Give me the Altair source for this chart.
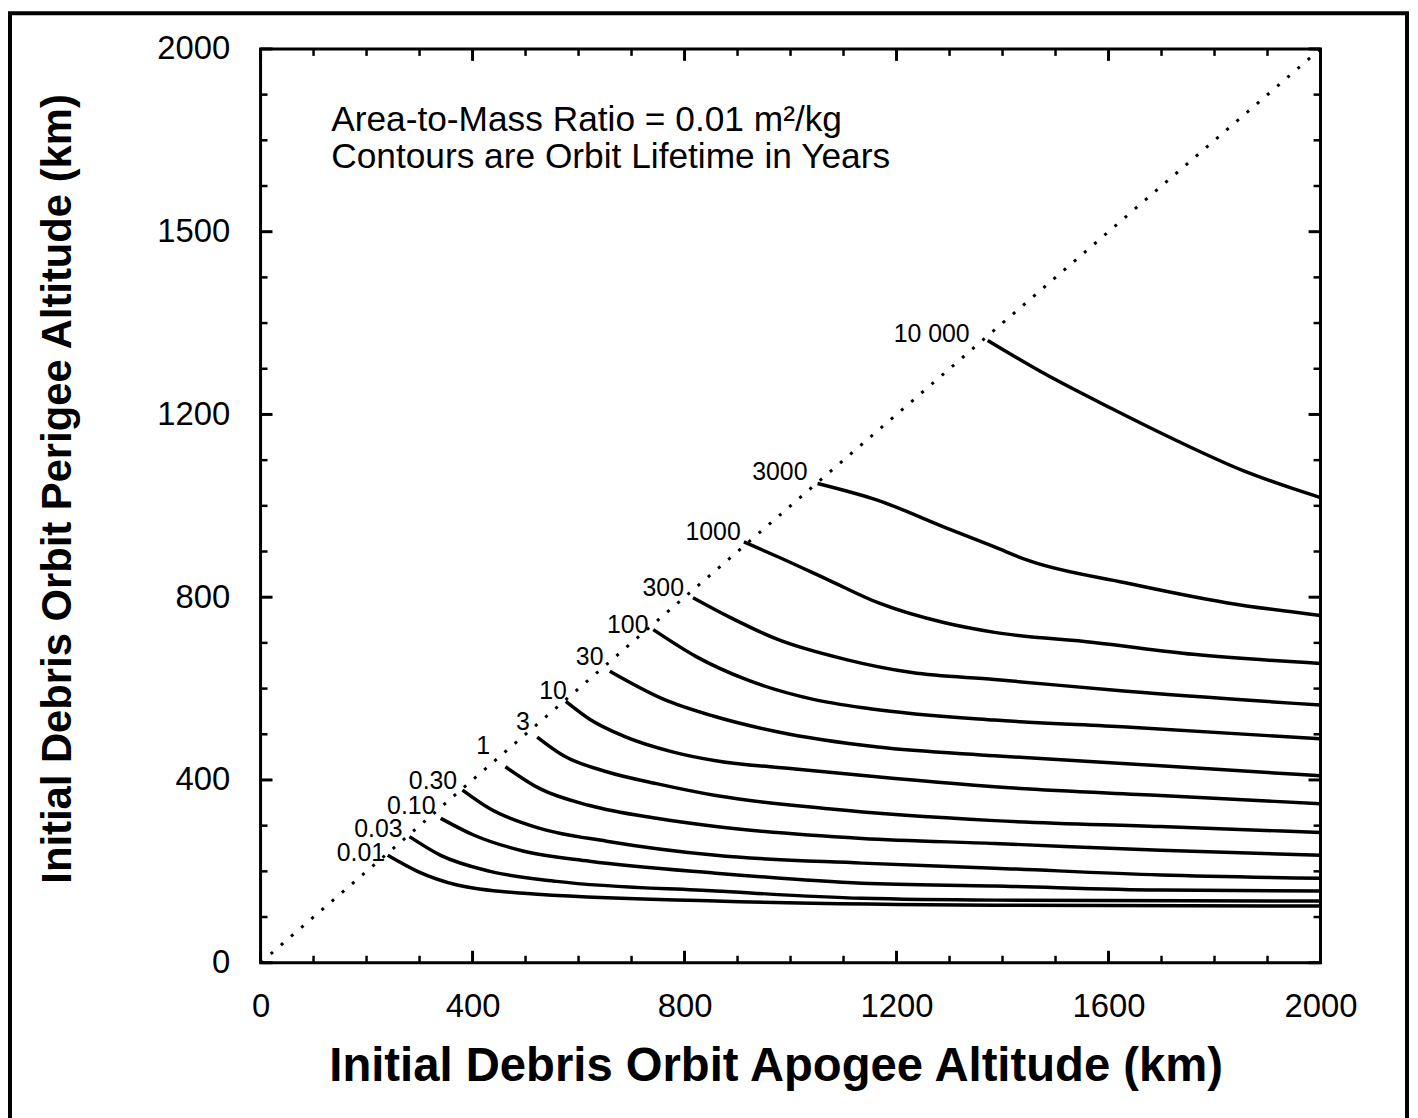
import altair as alt
import pandas as pd

# ---------------- data ----------------
levels = ["10 000", "3000", "1000", "300", "100", "30", "10", "3", "1",
          "0.30", "0.10", "0.03", "0.01"]

apogee_10000 = [1372, 1478, 1604, 1728, 1854, 1947, 2000]
perigee_10000 = [1362, 1290, 1214, 1143, 1077, 1038, 1018]
apogee_3000 = [1051, 1165, 1291, 1385, 1447, 1634, 1822, 2000]
perigee_3000 = [1049, 1012, 953, 910, 881, 831, 788, 760]
apogee_1000 = [912, 977, 1071, 1165, 1291, 1385, 1572, 1760, 2000]
perigee_1000 = [921, 888, 838, 788, 744, 723, 701, 675, 655]
apogee_300 = [816, 884, 977, 1103, 1229, 1385, 1634, 2000]
perigee_300 = [799, 757, 707, 664, 635, 620, 594, 564]
apogee_100 = [741, 822, 916, 1041, 1150, 1385, 1634, 2000]
perigee_100 = [729, 670, 620, 577, 556, 531, 516, 490]
apogee_30 = [659, 760, 854, 977, 1165, 1385, 1698, 2000]
perigee_30 = [638, 577, 540, 505, 472, 453, 431, 409]
apogee_10 = [576, 621, 685, 779, 859, 1009, 1197, 1385, 1698, 2000]
perigee_10 = [572, 533, 496, 461, 442, 424, 403, 385, 366, 348]
apogee_3 = [522, 572, 653, 747, 859, 1071, 1385, 1698, 2000]
perigee_3 = [494, 453, 418, 392, 366, 337, 311, 298, 285]
apogee_1 = [462, 527, 621, 747, 859, 1135, 1385, 1698, 2000]
perigee_1 = [429, 381, 344, 316, 298, 272, 261, 246, 235]
apogee_030 = [381, 433, 527, 653, 859, 1135, 1385, 1698, 2000]
perigee_030 = [378, 337, 294, 266, 235, 218, 207, 192, 185]
apogee_010 = [340, 403, 497, 621, 859, 1135, 1385, 1698, 2000]
perigee_010 = [316, 279, 244, 222, 196, 174, 168, 159, 157]
apogee_003 = [281, 340, 433, 559, 859, 1135, 1385, 2000]
perigee_003 = [276, 235, 200, 178, 157, 141, 137, 135]
apogee_001 = [240, 296, 371, 497, 859, 1385, 2000]
perigee_001 = [235, 200, 170, 152, 135, 126, 124]

# contour label anchors (right end of text, middle of text), in km
label_apogee = [1338, 1032, 906, 799, 732, 647, 578, 508, 433, 371, 330, 268, 235]
label_perigee = [1375, 1073, 942, 820, 740, 668, 594, 527, 474, 398, 344, 292, 239]

diagonal = [0, 2000]

x_tick_values = [0, 400, 800, 1200, 1600, 2000]
x_tick_labels = ["0", "400", "800", "1200", "1600", "2000"]
y_tick_values = [0, 400, 800, 1200, 1600, 2000]
y_tick_labels = ["0", "400", "800", "1200", "1500", "2000"]
major_ticks = [0, 400, 800, 1200, 1600, 2000]
minor_ticks = [100, 200, 300, 500, 600, 700, 900, 1000, 1100,
               1300, 1400, 1500, 1700, 1800, 1900]

note_line1 = "Area-to-Mass Ratio = 0.01 m²/kg"
note_line2 = "Contours are Orbit Lifetime in Years"
x_title = "Initial Debris Orbit Apogee Altitude (km)"
y_title = "Initial Debris Orbit Perigee Altitude (km)"

# ---------------- build tables ----------------
apogees = [apogee_10000, apogee_3000, apogee_1000, apogee_300, apogee_100, apogee_30,
           apogee_10, apogee_3, apogee_1, apogee_030, apogee_010, apogee_003, apogee_001]
perigees = [perigee_10000, perigee_3000, perigee_1000, perigee_300, perigee_100, perigee_30,
            perigee_10, perigee_3, perigee_1, perigee_030, perigee_010, perigee_003, perigee_001]

rows = []
for lvl, xs_, ys_ in zip(levels, apogees, perigees):
    for i, (a, p) in enumerate(zip(xs_, ys_)):
        rows.append({"level": lvl, "i": i, "apogee": a, "perigee": p})
contours = pd.DataFrame(rows)
labels_df = pd.DataFrame({"level": levels, "apogee": label_apogee, "perigee": label_perigee})
diag_df = pd.DataFrame({"apogee": diagonal, "perigee": diagonal})
major_df = pd.DataFrame({"v": major_ticks})
minor_df = pd.DataFrame({"v": minor_ticks})

W, H = 1066, 919
FONT = "Liberation Sans"
MAJ, MIN = 12, 7

xs = alt.Scale(domain=[0, 2000], nice=False, zero=False)
ys = alt.Scale(domain=[0, 2000], nice=False, zero=False)


def expr_for(values, texts):
    e = "datum.label"
    for v, t in reversed(list(zip(values, texts))):
        e = f"datum.value == {v} ? '{t}' : ({e})"
    return e


x_axis = alt.Axis(values=x_tick_values, labelExpr=expr_for(x_tick_values, x_tick_labels),
                  ticks=False, tickSize=0, domain=False, grid=False,
                  labelFontSize=33, labelFont=FONT, labelColor="black",
                  labelPadding=28, labelFlush=False, orient="bottom",
                  title=x_title, titleFontSize=47.5, titleFont=FONT, titleFontWeight="bold",
                  titleColor="black", titleX=518, titleY=104, titleAlign="center",
                  titleBaseline="middle")
y_axis = alt.Axis(values=y_tick_values, labelExpr=expr_for(y_tick_values, y_tick_labels),
                  ticks=False, tickSize=0, domain=False, grid=False,
                  labelFontSize=33, labelFont=FONT, labelColor="black",
                  labelPadding=31, orient="left",
                  title=y_title, titleFontSize=42, titleFont=FONT, titleFontWeight="bold",
                  titleColor="black", titleAngle=270, titleX=-204, titleY=442,
                  titleAlign="center", titleBaseline="middle")

contour_layer = alt.Chart(contours).mark_line(
    color="black", strokeWidth=3.5, interpolate="monotone"
).encode(
    x=alt.X("apogee:Q", scale=xs, axis=x_axis),
    y=alt.Y("perigee:Q", scale=ys, axis=y_axis),
    detail="level:N",
    order="i:Q",
)

diag_layer = alt.Chart(diag_df).mark_line(
    color="black", strokeWidth=3, strokeDash=[3, 10.5]
).encode(
    x=alt.X("apogee:Q", scale=xs, axis=None),
    y=alt.Y("perigee:Q", scale=ys, axis=None),
)

label_layer = alt.Chart(labels_df).mark_text(
    align="right", baseline="middle", fontSize=25, font=FONT, color="black"
).encode(
    x=alt.X("apogee:Q", scale=xs, axis=None),
    y=alt.Y("perigee:Q", scale=ys, axis=None),
    text="level:N",
)

note1 = alt.Chart(pd.DataFrame({"t": [note_line1]})).mark_text(
    align="left", baseline="middle", fontSize=35.5, font=FONT, color="black"
).encode(x=alt.value(71), y=alt.value(72), text="t:N")
note2 = alt.Chart(pd.DataFrame({"t": [note_line2]})).mark_text(
    align="left", baseline="middle", fontSize=35.5, font=FONT, color="black"
).encode(x=alt.value(71), y=alt.value(109), text="t:N")


def tick_layers(df, length, width):
    out = []
    out.append(alt.Chart(df).mark_rule(color="black", strokeWidth=width).encode(
        x=alt.X("v:Q", scale=xs, axis=None), y=alt.value(H), y2=alt.value(H - length)))
    out.append(alt.Chart(df).mark_rule(color="black", strokeWidth=width).encode(
        x=alt.X("v:Q", scale=xs, axis=None), y=alt.value(0), y2=alt.value(length)))
    out.append(alt.Chart(df).mark_rule(color="black", strokeWidth=width).encode(
        y=alt.Y("v:Q", scale=ys, axis=None), x=alt.value(0), x2=alt.value(length)))
    out.append(alt.Chart(df).mark_rule(color="black", strokeWidth=width).encode(
        y=alt.Y("v:Q", scale=ys, axis=None), x=alt.value(W), x2=alt.value(W - length)))
    return out


frame = alt.Chart(pd.DataFrame({"k": [0]})).mark_rect(
    fillOpacity=0, stroke="black", strokeWidth=4
).encode(x=alt.value(-252), x2=alt.value(1153), y=alt.value(-36), y2=alt.value(1100))

layers = [contour_layer, diag_layer, label_layer, note1, note2, frame]
layers += tick_layers(major_df, MAJ, 3)
layers += tick_layers(minor_df, MIN, 2.5)

chart = alt.layer(*layers).resolve_axis(
    x="independent", y="independent"
).properties(
    width=W, height=H,
    autosize=alt.AutoSizeParams(type="none"),
    padding={"left": 254, "top": 38, "right": 90, "bottom": 153},
    background="white",
).configure_view(stroke="black", strokeWidth=3)

chart.save("out.html", embed_options={"renderer": "svg", "actions": False})
